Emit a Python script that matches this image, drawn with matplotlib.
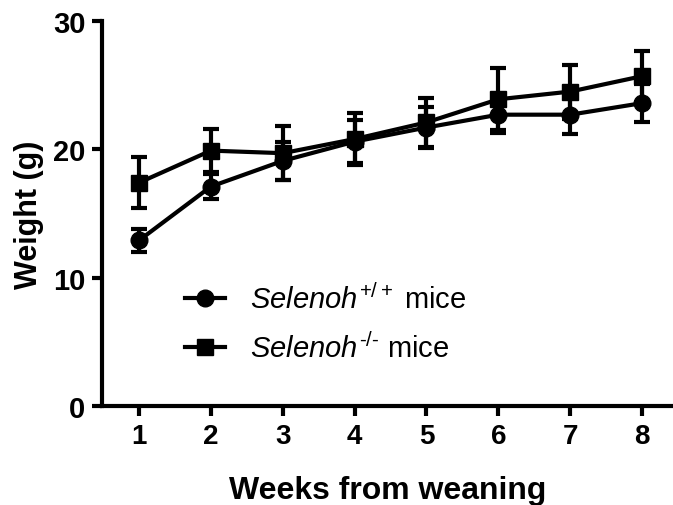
import matplotlib
matplotlib.use("Agg")
import matplotlib.pyplot as plt
from matplotlib.lines import Line2D

weeks = [1, 2, 3, 4, 5, 6, 7, 8]
wt_mean = [12.9, 17.1, 19.1, 20.6, 21.7, 22.7, 22.7, 23.6]
wt_err = [0.9, 1.0, 1.5, 1.7, 1.6, 1.4, 1.5, 1.5]
ko_mean = [17.4, 19.9, 19.7, 20.8, 22.1, 23.9, 24.5, 25.7]
ko_err = [2.0, 1.7, 2.1, 2.0, 1.9, 2.4, 2.1, 2.0]
xticks = [1, 2, 3, 4, 5, 6, 7, 8]
yticks = [0, 10, 20, 30]
wt_label = r'$\mathit{Selenoh}^{\mathrm{+/+}}$ mice'
ko_label = '$\\mathit{Selenoh}^{\\mathrm{\u2010/\u2010}}$ mice'

plt.rcParams['font.family'] = ['Liberation Sans', 'DejaVu Sans']
plt.rcParams['mathtext.fontset'] = 'custom'
plt.rcParams['mathtext.it'] = 'Liberation Sans:italic'
plt.rcParams['mathtext.rm'] = 'Liberation Sans'

fig = plt.figure(figsize=(6.73, 5.06), dpi=100)
ax = fig.add_axes([102/673, 1 - 407/506, 1 - 102/673, 385/506])

lw = 3
ms = 12
ax.errorbar(weeks, wt_mean, yerr=wt_err, color='black', marker='o', ms=ms,
            lw=lw, elinewidth=lw, capsize=5.5, capthick=lw,
            clip_on=False, zorder=3)
ax.errorbar(weeks, ko_mean, yerr=ko_err, color='black', marker='s', ms=ms,
            lw=lw, elinewidth=lw, capsize=5.5, capthick=lw,
            clip_on=False, zorder=3)

ax.set_xlim(0.485, 8.43)
ax.set_ylim(0, 30)
ax.set_xticks(xticks)
ax.set_yticks(yticks)
ax.set_xticklabels([str(v) for v in xticks], fontsize=20, fontweight='bold')
ax.set_yticklabels([str(v) for v in yticks], fontsize=21, fontweight='bold')
for s in ['top', 'right']:
    ax.spines[s].set_visible(False)
for s in ['left', 'bottom']:
    ax.spines[s].set_linewidth(lw)
ax.tick_params(width=lw, length=7, pad=5)

ax.set_xlabel('Weeks from weaning', fontsize=23, fontweight='bold', labelpad=19)
ax.set_ylabel('Weight (g)', fontsize=22, fontweight='bold', labelpad=6)

handles = [Line2D([], [], color='black', marker='o', ms=ms, lw=lw),
           Line2D([], [], color='black', marker='s', ms=ms, lw=lw)]
leg = ax.legend(handles, [wt_label, ko_label], loc='upper left',
                bbox_to_anchor=(0.10, 0.387), frameon=False,
                fontsize=21, handlelength=1.37, handletextpad=0.85,
                labelspacing=0.65)

fig.savefig('out.png', dpi=100)
